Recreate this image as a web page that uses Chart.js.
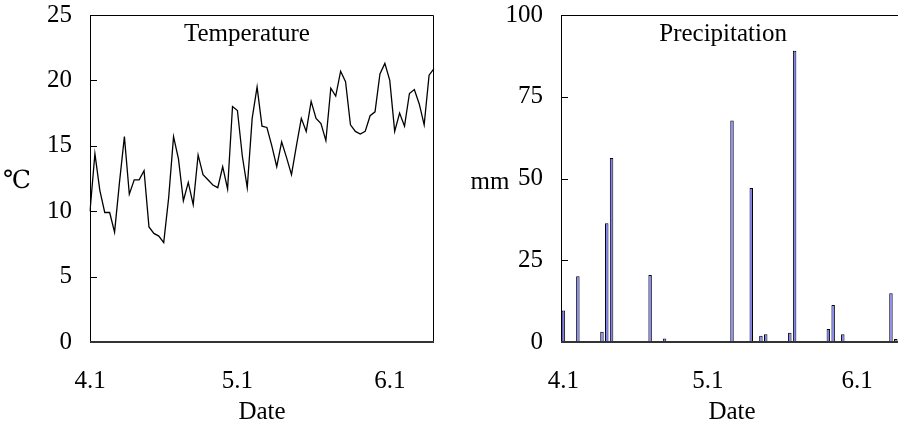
<!DOCTYPE html>
<html>
<head>
<meta charset="utf-8">
<script src="https://cdn.jsdelivr.net/npm/chart.js@4"></script>
<style>
html, body { margin: 0; padding: 0; background: #fff; overflow: hidden; }
#wrap { position: relative; width: 898px; height: 429px; overflow: hidden; }
#tempBox { position: absolute; left: 0; top: 0; width: 449px; height: 429px; }
#rainBox { position: absolute; left: 449px; top: 0; width: 469px; height: 429px; }
</style>
</head>
<body>
<div id="wrap">
  <div id="tempBox"><canvas id="tempChart"></canvas></div>
  <div id="rainBox"><canvas id="rainChart"></canvas></div>
</div>
<script>
// categorias: dias de 4.1 a 6.10
const months = [4, 5, 6];
const monthDays = [30, 31, 10];
const days = [];
months.forEach((m, k) => {
    for (let d = 1; d <= monthDays[k]; d++) days.push(m + '.' + d);
});

const tickLabels = ['4.1', '5.1', '6.1'];

// temperatura diaria (℃)
const temperature = [
    10.0, 14.4, 11.6, 9.9, 9.9, 8.4, 12.2, 15.7, 11.3, 12.4,
    12.4, 13.1, 8.8, 8.3, 8.1, 7.6, 11.0, 15.7, 14.0, 10.8,
    12.2, 10.5, 14.3, 12.8, 12.4, 12.0, 11.8, 13.4, 11.7, 18.0,
    17.7, 14.2, 11.8, 17.1, 19.5, 16.5, 16.4, 15.0, 13.4, 15.3,
    14.1, 12.8, 15.0, 17.1, 16.1, 18.4, 17.1, 16.7, 15.4, 19.4,
    18.8, 20.7, 19.9, 16.6, 16.1, 15.9, 16.1, 17.3, 17.6, 20.5,
    21.3, 20.0, 16.1, 17.5, 16.5, 19.0, 19.3, 18.2, 16.6, 20.4,
    20.9
];

// precipitacao (mm), so os dias com chuva
const rainDates = ['4.1', '4.4', '4.9', '4.10', '4.11', '4.19', '4.22', '5.6', '5.10',
    '5.12', '5.13', '5.18', '5.19', '5.26', '5.27', '5.29', '6.8', '6.9'];
const rainAmounts = [9.6, 20.1, 3.1, 36.3, 56.3, 20.5, 1.1, 67.7, 47.1,
    1.9, 2.4, 2.8, 89.1, 4.0, 11.3, 2.4, 14.9, 0.9];

const FONT = '"Liberation Serif", "DejaVu Serif", "Noto Sans CJK SC", serif';

// moldura, ticks internos, titulo e unidade
const framePlugin = {
    id: 'frame',
    afterDraw(chart, args, opts) {
        const { ctx, chartArea: a, scales } = chart;
        ctx.save();
        ctx.strokeStyle = '#000';
        ctx.lineWidth = 1;
        ctx.beginPath();
        ctx.moveTo(a.left + 0.5, a.bottom);
        ctx.lineTo(a.left + 0.5, a.top + 0.5);
        ctx.lineTo(a.right - 0.5, a.top + 0.5);
        ctx.lineTo(a.right - 0.5, a.bottom);
        scales.y.ticks.forEach(t => {
            const y = Math.round(scales.y.getPixelForValue(t.value)) + 0.5;
            ctx.moveTo(a.left, y);
            ctx.lineTo(a.left + 7, y);
        });
        ctx.stroke();
        ctx.strokeStyle = '#333';
        ctx.lineWidth = 2;
        ctx.beginPath();
        ctx.moveTo(a.left, a.bottom);
        ctx.lineTo(a.right, a.bottom);
        ctx.stroke();

        ctx.fillStyle = '#000';
        ctx.font = '25px ' + FONT;
        ctx.textAlign = 'center';
        ctx.textBaseline = 'alphabetic';
        ctx.fillText(opts.title, a.left + a.width * opts.titleX, a.top + 26);
        ctx.textBaseline = 'middle';
        ctx.fillText(opts.unit, opts.unitX, opts.unitY);
        ctx.restore();
    }
};

function baseScales(yMax, yStep, yWidth) {
    return {
        x: {
            grid: { display: false, drawTicks: false },
            border: { display: false },
            ticks: {
                autoSkip: false,
                maxRotation: 0,
                padding: 24,
                color: '#000',
                font: { family: FONT, size: 25 },
                callback: function (v) {
                    const lab = this.getLabelForValue(v);
                    return tickLabels.includes(lab) ? lab : '';
                }
            },
            title: { display: true, text: 'Date', color: '#000', font: { family: FONT, size: 25 }, padding: { top: 0, bottom: 2 } },
            afterFit: s => { s.height = 87; s.paddingLeft = 0; s.paddingRight = 0; }
        },
        y: {
            min: 0,
            max: yMax,
            grid: { display: false, drawTicks: false },
            border: { display: false },
            ticks: { stepSize: yStep, padding: 18, color: '#000', font: { family: FONT, size: 25 } },
            afterFit: s => { s.width = yWidth; s.paddingTop = 0; s.paddingBottom = 0; }
        }
    };
}

new Chart(document.getElementById('tempChart'), {
    type: 'line',
    data: {
        labels: days,
        datasets: [{
            data: temperature,
            borderColor: '#000',
            borderWidth: 1.3,
            pointRadius: 0,
            tension: 0,
            fill: false
        }]
    },
    options: {
        responsive: true,
        maintainAspectRatio: false,
        animation: false,
        layout: { padding: { top: 15, right: 15, left: 0, bottom: 0 } },
        scales: baseScales(25, 5, 90),
        plugins: {
            legend: { display: false },
            tooltip: { enabled: false },
            frame: { title: 'Temperature', titleX: 0.456, unit: '℃', unitX: 17, unitY: 181 }
        }
    },
    plugins: [framePlugin]
});

new Chart(document.getElementById('rainChart'), {
    type: 'bar',
    data: {
        labels: days,
        datasets: [{
            data: rainDates.map((d, i) => ({ x: d, y: rainAmounts[i] })),
            backgroundColor: '#8080ff',
            borderColor: '#000',
            borderWidth: 1,
            barPercentage: 0.72,
            categoryPercentage: 1.0
        }]
    },
    options: {
        responsive: true,
        maintainAspectRatio: false,
        animation: false,
        layout: { padding: { top: 15, right: 15, left: 0, bottom: 0 } },
        scales: baseScales(100, 25, 112),
        plugins: {
            legend: { display: false },
            tooltip: { enabled: false },
            frame: { title: 'Precipitation', titleX: 0.474, unit: 'mm', unitX: 41, unitY: 182 }
        }
    },
    plugins: [framePlugin]
});
</script>
</body>
</html>
